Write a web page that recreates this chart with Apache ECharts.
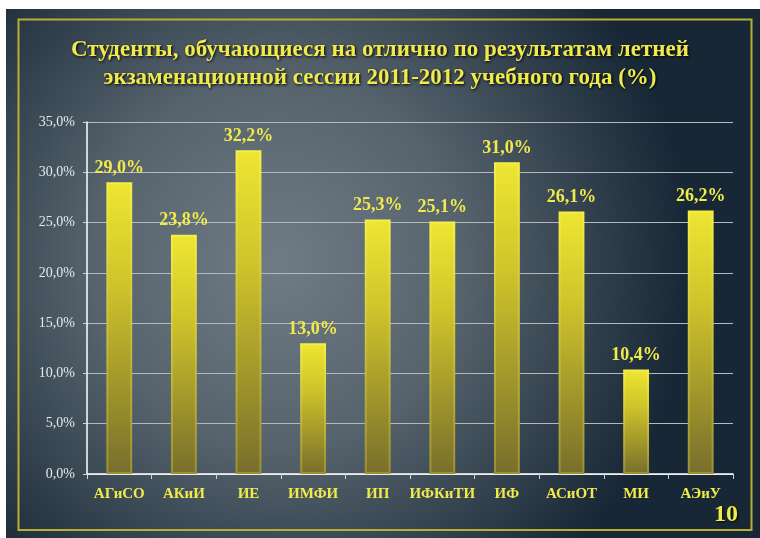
<!DOCTYPE html>
<html>
<head>
<meta charset="utf-8">
<script src="https://cdn.jsdelivr.net/npm/echarts@6/dist/echarts.min.js"></script>
<style>
  html, body { margin: 0; padding: 0; background: #ffffff; }
  #chart { width: 760px; height: 538px; }
</style>
</head>
<body>
<div id="chart"></div>
<script>
// categories and values
var categories = ['АГиСО', 'АКиИ', 'ИЕ', 'ИМФИ', 'ИП', 'ИФКиТИ', 'ИФ', 'АСиОТ', 'МИ', 'АЭиУ'];
var percents = [29.0, 23.8, 32.2, 13.0, 25.3, 25.1, 31.0, 26.1, 10.4, 26.2];
var titleLines = [
    'Студенты, обучающиеся на отлично по результатам летней',
    'экзаменационной сессии 2011-2012 учебного года (%)'
];
var slideNumber = '10';

var yellow = '#f0ea4c';
var serif = '"Liberation Serif", "DejaVu Serif", serif';

function fmt(v) {
    return v.toFixed(1).replace('.', ',') + '%';
}

var chart = echarts.init(document.getElementById('chart'));

var option = {
    backgroundColor: '#ffffff',
    animation: false,
    graphic: [
        {
            type: 'rect',
            z: -10,
            shape: { x: 6, y: 9, width: 754, height: 529 },
            style: {
                fill: {
                    type: 'radial', x: 0.36, y: 0.48, r: 0.78,
                    colorStops: [
                        { offset: 0, color: '#6f7c85' },
                        { offset: 0.45, color: '#56636d' },
                        { offset: 1, color: '#172735' }
                    ]
                }
            }
        },
        {
            type: 'rect',
            z: -9,
            shape: { x: 18.5, y: 19.5, width: 733, height: 510.5 },
            style: { fill: 'transparent', stroke: '#b8b032', lineWidth: 2 }
        },
        {
            type: 'text',
            left: 714, top: 503,
            style: {
                text: slideNumber,
                fill: yellow,
                font: 'bold 24px ' + serif,
                textShadowColor: '#000', textShadowBlur: 2, textShadowOffsetX: 1, textShadowOffsetY: 1
            }
        }
    ],
    title: {
        text: titleLines.join('\n'),
        left: 'center',
        top: 31,
        textStyle: {
            color: yellow,
            fontFamily: serif,
            fontWeight: 'bold',
            fontSize: 23,
            lineHeight: 28,
            textShadowColor: '#000',
            textShadowBlur: 3,
            textShadowOffsetX: 1,
            textShadowOffsetY: 1
        }
    },
    grid: {
        left: 87, right: 27, top: 122, bottom: 64
    },
    xAxis: {
        type: 'category',
        data: categories,
        axisLine: { lineStyle: { color: '#ffffff', width: 1.5 } },
        axisTick: { show: true, lineStyle: { color: '#d0d4d8' } },
        axisLabel: {
            color: yellow,
            fontFamily: serif,
            fontWeight: 'bold',
            fontSize: 15,
            margin: 13,
            interval: 0
        }
    },
    yAxis: {
        type: 'value',
        min: 0, max: 35, interval: 5,
        axisLine: { show: true, lineStyle: { color: '#ffffff', width: 1.5 } },
        axisTick: { show: true, length: 4, lineStyle: { color: '#d0d4d8' } },
        splitLine: { lineStyle: { color: '#b4b9be', width: 1 } },
        axisLabel: {
            color: '#e6e8ea',
            fontFamily: serif,
            fontSize: 14,
            margin: 12,
            formatter: function (v) { return fmt(v); }
        }
    },
    series: [{
        type: 'bar',
        data: percents,
        barWidth: '40%',
        itemStyle: {
            color: {
                type: 'linear', x: 0, y: 0, x2: 0, y2: 1,
                colorStops: [
                    { offset: 0, color: '#eee632' },
                    { offset: 0.35, color: '#cfc42a' },
                    { offset: 1, color: '#786e2c' }
                ]
            },
            borderColor: {
                type: 'linear', x: 0, y: 0, x2: 0, y2: 1,
                colorStops: [
                    { offset: 0, color: '#f6ef48' },
                    { offset: 1, color: '#9a9034' }
                ]
            },
            borderWidth: 2
        },
        label: {
            show: true,
            position: 'top',
            distance: 5,
            color: yellow,
            fontFamily: serif,
            fontWeight: 'bold',
            fontSize: 18,
            formatter: function (p) { return fmt(p.value); }
        }
    }]
};

chart.setOption(option);
</script>
</body>
</html>
